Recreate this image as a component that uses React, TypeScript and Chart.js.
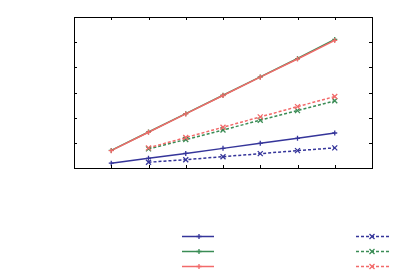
import React, { useEffect, useRef } from "react";
import { Chart, registerables } from "chart.js";

Chart.register(...registerables);

const xValues = [1, 2, 3, 4, 5, 6, 7];
const solidBlue = [0.19, 0.385, 0.58, 0.78, 0.98, 1.18, 1.39];
const solidGreen = [0.7, 1.43, 2.16, 2.89, 3.62, 4.35, 5.11];
const solidRed = [0.69, 1.42, 2.15, 2.88, 3.61, 4.33, 5.07];
const dashedBlue = [null, 0.23, 0.33, 0.45, 0.57, 0.69, 0.8];
const dashedGreen = [null, 0.76, 1.13, 1.51, 1.9, 2.28, 2.67];
const dashedRed = [null, 0.8, 1.21, 1.62, 2.03, 2.44, 2.84];
const xTicks = [1, 2, 3, 4, 5, 6, 7];
const yTicks = [1, 2, 3, 4, 5];

const BLUE = "#35359a";
const GREEN = "#3a8c55";
const RED = "#f26a6a";

function drawMarker(ctx: CanvasRenderingContext2D, style: string, x: number, y: number, color: string) {
  ctx.save();
  ctx.strokeStyle = color;
  ctx.lineWidth = 1.3;
  ctx.setLineDash([]);
  ctx.beginPath();
  if (style === "cross") {
    const r = 2.5;
    ctx.moveTo(x - r, y);
    ctx.lineTo(x + r, y);
    ctx.moveTo(x, y - r);
    ctx.lineTo(x, y + r);
  } else {
    const r = 2.5;
    ctx.moveTo(x - r, y - r);
    ctx.lineTo(x + r, y + r);
    ctx.moveTo(x - r, y + r);
    ctx.lineTo(x + r, y - r);
  }
  ctx.stroke();
  ctx.restore();
}

const framePlugin = {
  id: "frame",
  afterDraw(chart: any) {
    const { ctx, chartArea } = chart;
    const { left, right, top, bottom } = chartArea;
    const xs = chart.scales.x;
    const ys = chart.scales.y;
    ctx.save();
    ctx.strokeStyle = "#000";
    ctx.lineWidth = 1;
    ctx.setLineDash([]);
    ctx.strokeRect(Math.round(left) + 0.5, Math.round(top) + 0.5, Math.round(right - left), Math.round(bottom - top));
    const tl = 3;
    ctx.beginPath();
    for (const t of xTicks) {
      const px = Math.round(xs.getPixelForValue(t)) + 0.5;
      ctx.moveTo(px, top);
      ctx.lineTo(px, top + tl);
      ctx.moveTo(px, bottom);
      ctx.lineTo(px, bottom - tl);
    }
    for (const t of yTicks) {
      const py = Math.round(ys.getPixelForValue(t)) + 0.5;
      ctx.moveTo(left, py);
      ctx.lineTo(left + tl, py);
      ctx.moveTo(right, py);
      ctx.lineTo(right - tl, py);
    }
    ctx.stroke();

    // legend samples
    const rows = [236.5, 251.5, 266.5];
    const ds = chart.data.datasets;
    for (let i = 0; i < 3; i++) {
      const d = ds[i];
      ctx.strokeStyle = d.borderColor;
      ctx.lineWidth = d.borderWidth;
      ctx.setLineDash([]);
      ctx.beginPath();
      ctx.moveTo(182, rows[i]);
      ctx.lineTo(214, rows[i]);
      ctx.stroke();
      drawMarker(ctx, "cross", 199, rows[i], d.borderColor);
    }
    for (let i = 0; i < 3; i++) {
      const d = ds[i + 3];
      ctx.strokeStyle = d.borderColor;
      ctx.lineWidth = d.borderWidth;
      ctx.setLineDash(d.borderDash);
      ctx.beginPath();
      ctx.moveTo(356, rows[i]);
      ctx.lineTo(389, rows[i]);
      ctx.stroke();
      drawMarker(ctx, "x", 372, rows[i], d.borderColor);
    }
    ctx.restore();
  },
};

const markerPlugin = {
  id: "markers",
  afterDatasetsDraw(chart: any) {
    const { ctx } = chart;
    chart.data.datasets.forEach((d: any, i: number) => {
      const meta = chart.getDatasetMeta(i);
      meta.data.forEach((pt: any, j: number) => {
        const v = d.data[j];
        if (v == null || v.y == null) return;
        drawMarker(ctx, i < 3 ? "cross" : "x", pt.x, pt.y, d.borderColor);
      });
    });
  },
};

export default function App() {
  const ref = useRef<HTMLCanvasElement>(null);
  useEffect(() => {
    if (!ref.current) return;
    const mk = (data: any[], color: string, dashed: boolean, order: number) => ({
      data: xValues.map((x, i) => ({ x, y: data[i] })),
      borderColor: color,
      backgroundColor: color,
      borderWidth: 1.5,
      borderDash: dashed ? [3, 2] : [],
      pointRadius: 0,
      spanGaps: false,
      tension: 0,
      order,
    });
    const chart = new Chart(ref.current, {
      type: "line",
      data: {
        datasets: [
          mk(solidBlue, BLUE, false, 5),
          mk(solidGreen, GREEN, false, 4),
          mk(solidRed, RED, false, 0),
          mk(dashedBlue, BLUE, true, 3),
          mk(dashedGreen, GREEN, true, 2),
          mk(dashedRed, RED, true, 1),
        ],
      },
      options: {
        animation: false,
        responsive: false,
        maintainAspectRatio: false,
        layout: { padding: { left: 74, right: 28, top: 17, bottom: 111 } },
        plugins: { legend: { display: false }, tooltip: { enabled: false } },
        scales: {
          x: { type: "linear", min: 0, max: 8, display: false },
          y: { type: "linear", min: 0, max: 6, display: false },
        },
      },
      plugins: [markerPlugin, framePlugin],
    });
    return () => chart.destroy();
  }, []);
  return (
    <div style={{ position: "fixed", left: 0, top: 0, width: 400, height: 279, background: "#fff" }}>
      <canvas ref={ref} width={400} height={279} style={{ width: 400, height: 279 }} />
    </div>
  );
}
